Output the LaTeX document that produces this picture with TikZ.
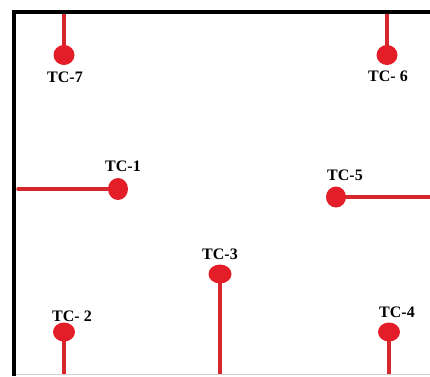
\documentclass[tikz,border=0pt]{standalone}
\usepackage{fontspec}
\setmainfont{Liberation Serif}
\usetikzlibrary{shapes.geometric,backgrounds}
\definecolor{probe}{RGB}{228,30,40}
\definecolor{stemred}{RGB}{214,40,44}
\begin{document}
\begin{tikzpicture}[x=1pt,y=-1pt,
  dot/.style={ellipse,fill=probe,draw=none,inner sep=0pt,minimum width=21pt,minimum height=20pt},
  stem/.style={stemred,line width=4pt},
  tag/.style={font=\fontsize{16}{16}\selectfont\bfseries,inner sep=0pt,text=black},
  frame/.style={black,line width=4pt}]
\useasboundingbox (0,0) rectangle (430,376);
% probe tips
\node[dot] (d7) at (64,55) {};
\node[dot] (d6) at (387,55) {};
\node[dot,minimum width=20pt,minimum height=22pt] (d1) at (118,189) {};
\node[dot,minimum width=20pt,minimum height=21pt] (d5) at (336,197) {};
\node[dot,minimum width=23pt,minimum height=19pt] (d3) at (220,274) {};
\node[dot,minimum width=22pt,minimum height=19pt] (d2) at (64,332) {};
\node[dot,minimum width=22pt,minimum height=19pt] (d4) at (389,332) {};
% wall entry points
\coordinate (e7) at (64,14);
\coordinate (e6) at (387,14);
\coordinate (e1) at (18,189);
\coordinate (e5) at (430,197);
\coordinate (e3) at (220,374);
\coordinate (e2) at (64,374);
\coordinate (e4) at (389,374);
% enclosure walls and probe sheaths, behind the tips
\begin{scope}[on background layer]
\draw[frame] (430,12) -- (14,12) -- (14,376);
\draw[black!18,line width=1pt] (16,374.5) -- (430,374.5);
\draw[stem] (e7) -- (d7.center);
\draw[stem] (e6) -- (d6.center);
\draw[stem,line width=3.5pt,line cap=round] (e1) -- (d1.center);
\draw[stem,line width=3.5pt] (e5) -- (d5.center);
\draw[stem] (e3) -- (d3.center);
\draw[stem] (e2) -- (d2.center);
\draw[stem] (e4) -- (d4.center);
\end{scope}
% labels
\node[tag] (l7) at (65,77) {TC-7};
\node[tag] (l6) at (388,76) {TC- 6};
\node[tag] (l1) at (123,166) {TC-1};
\node[tag] (l5) at (345,175) {TC-5};
\node[tag] (l3) at (220,254) {TC-3};
\node[tag] (l2) at (72,316) {TC- 2};
\node[tag] (l4) at (397,312) {TC-4};
\end{tikzpicture}
\end{document}
